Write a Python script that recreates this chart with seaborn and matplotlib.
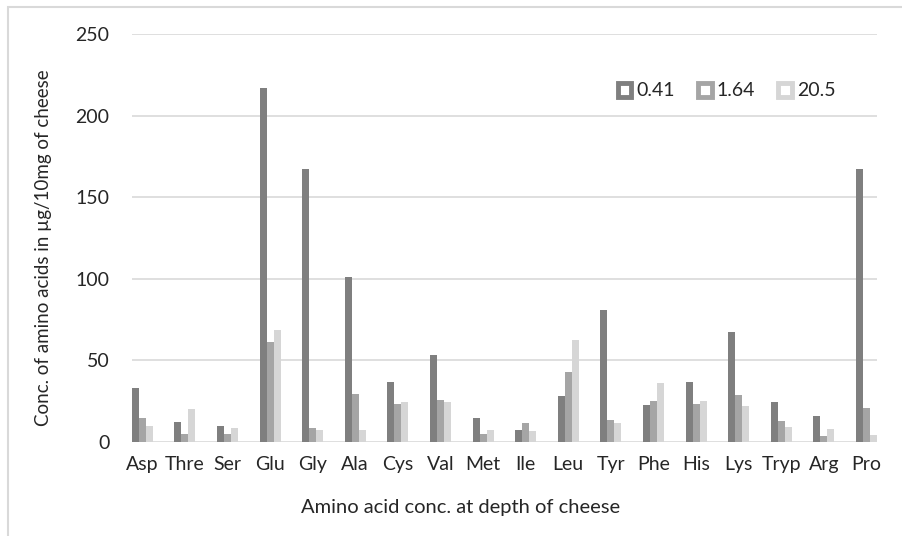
import matplotlib
matplotlib.use("Agg")
import matplotlib.pyplot as plt
from matplotlib.patches import Rectangle
import seaborn as sns
import pandas as pd

amino_acids = ["Asp", "Thre", "Ser", "Glu", "Gly", "Ala", "Cys", "Val", "Met",
               "Ile", "Leu", "Tyr", "Phe", "His", "Lys", "Tryp", "Arg", "Pro"]
depths = ["0.41", "1.64", "20.5"]
vals_041 = [33, 12, 10, 217, 167, 101, 37, 53.5, 15, 7.4, 28, 81, 22.6, 37, 67.3, 24.7, 15.9, 167]
vals_164 = [15, 4.7, 4.7, 61, 8.6, 29.2, 23.1, 26, 5.1, 11.5, 43, 13.3, 25.3, 23.3, 28.8, 12.9, 3.9, 20.6]
vals_205 = [10, 20.5, 8.7, 68.4, 7.2, 7.2, 24.5, 24.5, 7.4, 6.6, 62.3, 11.5, 36.3, 25.3, 22, 9, 8, 4.1]
colors = ["#7f7f7f", "#a5a5a5", "#d6d6d6"]

rows = []
for d, vals in zip(depths, [vals_041, vals_164, vals_205]):
    for a, v in zip(amino_acids, vals):
        rows.append({"acid": a, "depth": d, "value": v})
df = pd.DataFrame(rows)

sns.set_style("white")
plt.rcParams["font.family"] = ["Lato", "DejaVu Sans"]

W, H = 903, 536
fig = plt.figure(figsize=(W / 100, H / 100), dpi=100)
L, R, B, T = 131.7, 877, 442, 34
ax = fig.add_axes([L / W, 1 - B / H, (R - L) / W, (B - T) / H])

gw = 0.493
sns.barplot(data=df, x="acid", y="value", hue="depth", order=amino_acids,
            hue_order=depths, palette=colors, width=gw, saturation=1,
            linewidth=0, ax=ax, legend=False)

ax.set_xlim(-gw / 2, len(amino_acids) - 1 + gw / 2)
ax.set_ylim(0, 250)
ax.set_yticks([0, 50, 100, 150, 200, 250])
ax.yaxis.grid(True, color="#d9d9d9", linewidth=1.2)
ax.set_axisbelow(True)
for s in ax.spines.values():
    s.set_visible(False)
ax.tick_params(axis="both", length=0, labelsize=14, colors="#262626")
ax.tick_params(axis="y", pad=16)
ax.tick_params(axis="x", pad=10)
ax.set_xlabel("")
ax.set_ylabel("")

fig.text(461 / W, 1 - 508 / H, "Amino acid conc. at depth of cheese",
         ha="center", va="center", fontsize=14.5, color="#262626")
fig.text(44 / W, 1 - 248 / H, "Conc. of amino acids in µg/10mg of cheese",
         ha="center", va="center", rotation=90, fontsize=13.5, color="#262626")

handles = [Rectangle((0, 0), 1, 1, facecolor="white", edgecolor=c, linewidth=3.5)
           for c in colors]
leg = fig.legend(handles, depths, ncol=3, loc="center left",
                 bbox_to_anchor=(608 / W, 1 - 91 / H), frameon=False,
                 fontsize=14, handlelength=0.7, handleheight=0.7,
                 handletextpad=0.25, columnspacing=1.2, borderpad=0)
for t in leg.get_texts():
    t.set_color("#262626")

fig.patches.append(Rectangle((8 / W, -0.1), 1.2, (1 - 7 / H) + 0.1,
                             transform=fig.transFigure, fill=False,
                             edgecolor="#d9d9d9", linewidth=1.5))

fig.savefig("out.png", dpi=100)
